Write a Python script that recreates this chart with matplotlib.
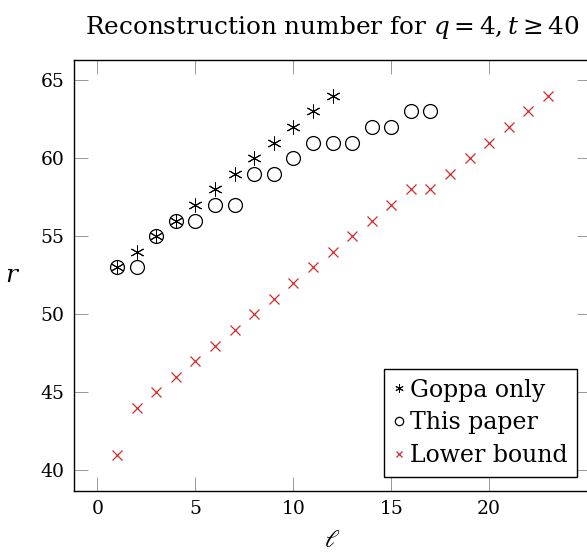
import matplotlib
matplotlib.use("Agg")
import matplotlib.pyplot as plt
from matplotlib.markers import MarkerStyle

plt.rcParams['font.family'] = ['DejaVu Serif']
plt.rcParams['mathtext.fontset'] = 'dejavuserif'

# data
goppa_l = [1, 2, 3, 4, 5, 6, 7, 8, 9, 10, 11, 12]
goppa_r = [53, 54, 55, 56, 57, 58, 59, 60, 61, 62, 63, 64]

paper_l = [1, 2, 3, 4, 5, 6, 7, 8, 9, 10, 11, 12, 13, 14, 15, 16, 17]
paper_r = [53, 53, 55, 56, 56, 57, 57, 59, 59, 60, 61, 61, 61, 62, 62, 63, 63]

lower_l = list(range(1, 24))
lower_r = [41, 44, 45, 46, 47, 48, 49, 50, 51, 52, 53, 54, 55, 56, 57, 58,
           58, 59, 60, 61, 62, 63, 64]

xticks = [0, 5, 10, 15, 20]
yticks = [40, 45, 50, 55, 60, 65]

fig = plt.figure(figsize=(5.87, 5.55), dpi=100)
ax = fig.add_axes([74 / 587, (555 - 490.6) / 555, 517 / 587, 430.6 / 555])

star = MarkerStyle((6, 2, 0))
ax.plot(goppa_l, goppa_r, linestyle='none', marker=star, markersize=10,
        color='black', markeredgewidth=0.7, label='Goppa only')
ax.plot(paper_l, paper_r, linestyle='none', marker='o', markersize=10,
        markerfacecolor='none', markeredgecolor='black', markeredgewidth=0.9,
        label='This paper')
ax.plot(lower_l, lower_r, linestyle='none', marker='x', markersize=7,
        color='#d42a2a', markeredgewidth=0.9, label='Lower bound')

ax.set_xlim(-1.2, 25.2)
ax.set_ylim(38.7, 66.3)
ax.set_xticks(xticks)
ax.set_yticks(yticks)
ax.tick_params(direction='in', length=10, width=0.6, color='#888888',
               labelsize=13.5, top=True, right=True, pad=7)
for s in ax.spines.values():
    s.set_linewidth(1.0)
    s.set_color('black')

ax.set_xlabel(r'$\ell$', fontsize=18, labelpad=8)
ax.set_ylabel(r'$r$', fontsize=18, rotation=0, labelpad=20, va='center')
ax.set_title(r'Reconstruction number for $q = 4, t \geq 40$', fontsize=17.8,
             pad=19)

leg = ax.legend(loc='lower right', bbox_to_anchor=(0.973, 0.032),
                borderaxespad=0, fontsize=17, markerscale=0.6,
                handlelength=0.5, handletextpad=0.2, labelspacing=0.42,
                borderpad=0.4, fancybox=False, edgecolor='black',
                framealpha=1)
leg.get_frame().set_linewidth(1.0)

fig.savefig('out.png', dpi=100)
